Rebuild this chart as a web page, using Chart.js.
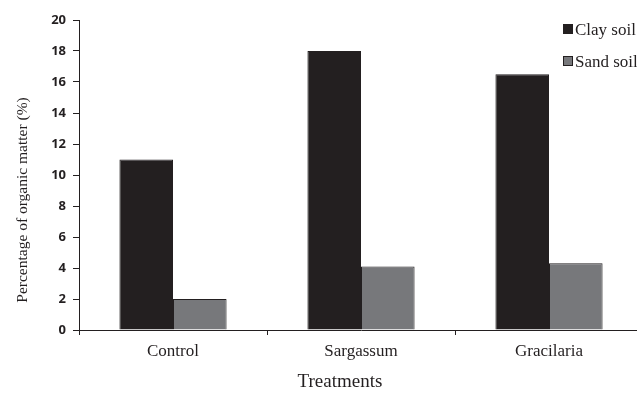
<!DOCTYPE html>
<html>
<head>
<meta charset="utf-8">
<script src="https://cdn.jsdelivr.net/npm/chart.js@4/dist/chart.umd.min.js"></script>
<style>
  html,body{margin:0;padding:0;background:#fff;overflow:hidden;}
  /* plot runs slightly past the right edge in the original */
  #wrap{width:643px;height:393px;position:relative;}
</style>
</head>
<body>
<div id="wrap"><canvas id="chart"></canvas></div>
<script>
// data
const treatments = ["Control", "Sargassum", "Gracilaria"];
const claySoil = [11, 18, 16.5];
const sandSoil = [2, 4.1, 4.3];
const seriesNames = ["Clay soil", "Sand soil"];
const yTitle = "Percentage of organic matter (%)";
const xTitle = "Treatments";

const ink = "#231f20";
const grey = "#77787b";
const serif = "'Liberation Serif', 'Times New Roman', serif";

// legend + axis titles drawn by hand (the original puts them off-centre)
const extras = {
  id: "extras",
  afterDraw(chart) {
    const ctx = chart.ctx;
    ctx.save();
    // legend, top right
    chart.data.datasets.forEach((ds, i) => {
      const y = 24 + i * 32;
      ctx.fillStyle = ds.backgroundColor;
      ctx.fillRect(563, y, 10, 10);
      ctx.strokeStyle = ink;
      ctx.lineWidth = 1;
      ctx.strokeRect(563.5, y + 0.5, 9, 9);
      ctx.fillStyle = ink;
      ctx.font = "17px " + serif;
      ctx.textBaseline = "alphabetic";
      ctx.textAlign = "left";
      ctx.fillText(ds.label, 575, y + 11);
    });
    // x title
    ctx.font = "19px " + serif;
    ctx.textAlign = "center";
    ctx.fillText(xTitle, 340, 387);
    // y title
    ctx.translate(27, 200);
    ctx.rotate(-Math.PI / 2);
    ctx.font = "15.5px " + serif;
    ctx.fillText(yTitle, 0, 0);
    ctx.restore();
  }
};

new Chart(document.getElementById("chart"), {
  type: "bar",
  data: {
    labels: treatments,
    datasets: [
      {label: seriesNames[0], data: claySoil, backgroundColor: ink, borderColor: ink, borderWidth: 1},
      {label: seriesNames[1], data: sandSoil, backgroundColor: grey, borderColor: ink, borderWidth: 1}
    ]
  },
  options: {
    responsive: true,
    maintainAspectRatio: false,
    animation: false,
    categoryPercentage: 0.57,
    barPercentage: 1.0,
    layout: {padding: {top: 20, left: 0, right: 0, bottom: 0}},
    plugins: {legend: {display: false}, tooltip: {enabled: false}},
    scales: {
      x: {
        grid: {offset: true, drawOnChartArea: false, tickLength: 5, color: ink},
        border: {color: ink, width: 1},
        ticks: {font: {family: serif, size: 17}, color: ink, padding: 6},
        afterFit(scale) { scale.height = 63; }
      },
      y: {
        min: 0,
        max: 20,
        ticks: {stepSize: 2, font: {family: "'Open Sans', sans-serif", size: 13, weight: "bold"}, color: ink, padding: 7},
        grid: {drawOnChartArea: false, tickLength: 6, color: ink},
        border: {color: ink, width: 1},
        afterFit(scale) { scale.width = 79; }
      }
    }
  },
  plugins: [extras]
});
</script>
</body>
</html>
